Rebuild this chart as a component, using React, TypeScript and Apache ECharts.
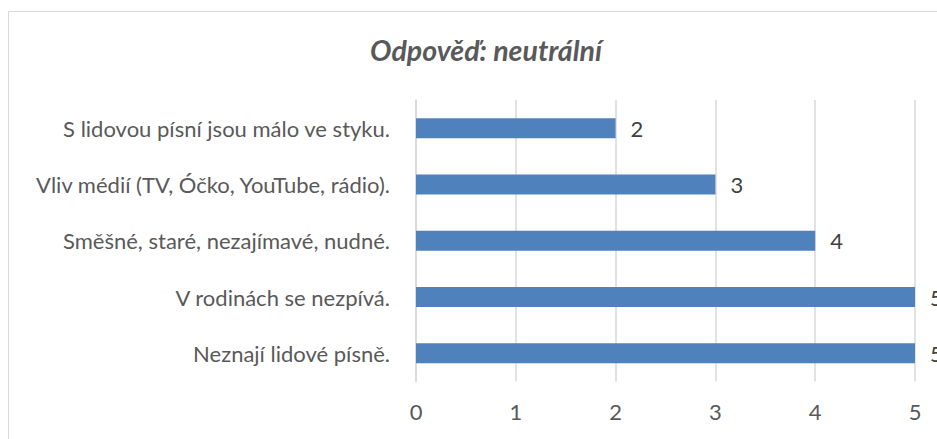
import React, { useEffect, useRef } from "react";
import * as echarts from "echarts";

const title = "Odpověď: neutrální";
const categories = [
  "Neznají lidové písně.",
  "V rodinách se nezpívá.",
  "Směšné, staré, nezajímavé, nudné.",
  "Vliv médií (TV, Óčko, YouTube, rádio).",
  "S lidovou písní jsou málo ve styku.",
];
const values = [5, 5, 4, 3, 2];
const xTicks = [0, 1, 2, 3, 4, 5];

const FONT = "Lato, 'Open Sans', sans-serif";

export default function App() {
  const ref = useRef<HTMLDivElement>(null);
  useEffect(() => {
    if (!ref.current) return;
    const chart = echarts.init(ref.current, null, { renderer: "svg" });
    chart.setOption({
      animation: false,
      backgroundColor: "#ffffff",
      title: {
        text: title,
        left: 481,
        top: 30,
        textAlign: "center",
        textStyle: {
          fontFamily: FONT,
          fontSize: 28.5,
          fontStyle: "italic",
          fontWeight: "bold",
          color: "#595959",
        },
      },
      graphic: [
        {
          type: "rect",
          shape: { x: 8.5, y: 11.5, width: 1000, height: 1000 },
          style: { fill: "none", stroke: "#d9d9d9", lineWidth: 1 },
          z: -1,
        },
      ],
      grid: { left: 416, right: 22, top: 100, bottom: 57.5, containLabel: false },
      xAxis: {
        type: "value",
        min: xTicks[0],
        max: xTicks[xTicks.length - 1],
        interval: 1,
        axisLine: { show: false },
        axisTick: { show: false },
        splitLine: { show: true, lineStyle: { color: "#d9d9d9", width: 1.5 } },
        axisLabel: {
          margin: 19,
          fontFamily: FONT,
          fontSize: 22,
          color: "#595959",
        },
      },
      yAxis: {
        type: "category",
        data: categories,
        axisLine: { show: true, lineStyle: { color: "#d9d9d9", width: 1.5 } },
        axisTick: { show: false },
        axisLabel: {
          margin: 26,
          fontFamily: FONT,
          fontSize: 22,
          color: "#595959",
        },
      },
      series: [
        {
          type: "bar",
          data: values,
          barWidth: 20,
          itemStyle: { color: "#4f81bd" },
          label: {
            show: true,
            position: "right",
            distance: 15,
            fontFamily: FONT,
            fontSize: 22,
            color: "#404040",
          },
        },
      ],
    });
    return () => chart.dispose();
  }, []);
  return (
    <div
      ref={ref}
      style={{ position: "fixed", left: 0, top: 0, width: 937, height: 439 }}
    />
  );
}
